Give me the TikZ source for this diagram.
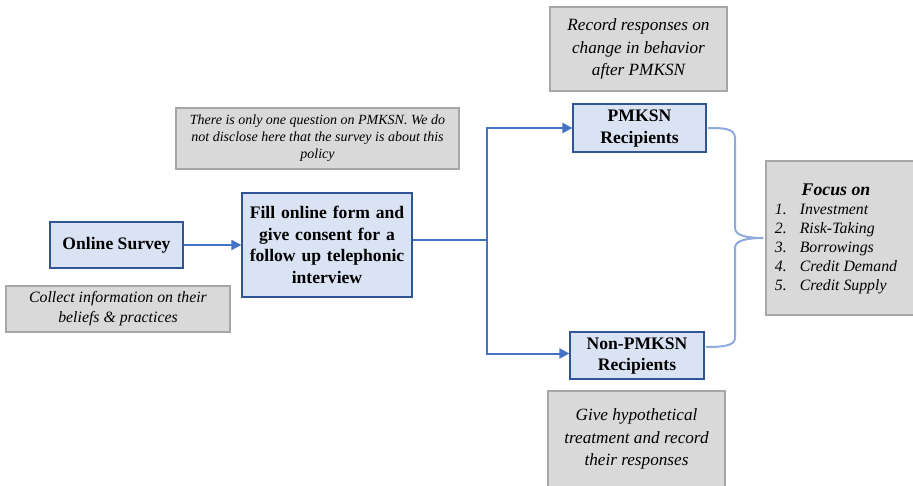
\documentclass[tikz,border=0pt]{standalone}
\usepackage{fontspec}
\setmainfont{Liberation Serif}
\usetikzlibrary{arrows.meta}
\definecolor{boxblue}{HTML}{DAE3F3}
\definecolor{edgeblue}{HTML}{2F5597}
\definecolor{flowblue}{HTML}{4472C4}
\definecolor{bracecol}{HTML}{8FAADC}
\definecolor{notegray}{HTML}{D9D9D9}
\definecolor{noteedge}{HTML}{A6A6A6}
\newcommand{\twolines}[2]{\raisebox{-2pt}{\begin{tabular}{@{}c@{}}#1\\#2\end{tabular}}}
\begin{document}
\begin{tikzpicture}[x=1pt,y=-1pt,
  stage/.style={draw=edgeblue,fill=boxblue,line width=1.2pt,inner sep=2pt,align=center,
    font=\fontsize{17.6}{21.5}\selectfont\bfseries},
  remark/.style={draw=noteedge,fill=notegray,line width=1.2pt,inner sep=2pt,align=center},
  flowline/.style={draw=flowblue,line width=2pt},
  flow/.style={flowline,-{Triangle[length=10pt,width=10pt]}}]
\useasboundingbox (0,0) rectangle (913,486);

% main stages
\node[stage,minimum width=133pt,minimum height=46pt] (survey) at (116.5,245) {Online Survey};
\node[stage,minimum width=170pt,minimum height=104pt,text width=164pt] (form) at (327,245)
  {Fill online form and\\give consent for a\\follow up telephonic\\interview};
\node[stage,minimum width=133pt,minimum height=48pt,inner sep=0pt] (pm) at (639.5,128)
  {\twolines{PMKSN}{Recipients}};
\node[stage,minimum width=134pt,minimum height=47pt,inner sep=0pt] (npm) at (637,355.5)
  {\twolines{Non-PMKSN}{Recipients}};

% side remarks
\node[remark,minimum width=224pt,minimum height=46pt,font=\fontsize{15.8}{20}\selectfont\itshape]
  (collect) at (118,309) {Collect information on their\\beliefs \& practices};
\node[remark,minimum width=283pt,minimum height=61pt,font=\fontsize{14}{17}\selectfont\itshape]
  (note) at (317.5,138.5) {There is only one question on PMKSN. We do\\not disclose here that the survey is about this\\policy};
\node[remark,minimum width=177pt,minimum height=84pt,font=\fontsize{17.2}{22.5}\selectfont\itshape]
  (record) at (638.5,49) {Record responses on\\change in behavior\\after PMKSN};
\node[remark,minimum width=177pt,minimum height=96pt,font=\fontsize{17.2}{22.5}\selectfont\itshape]
  (give) at (636.5,439) {Give hypothetical\\treatment and record\\their responses};

% focus box
\node[remark,minimum width=148pt,minimum height=154pt] (focus) at (840,238) {};
\node[inner sep=0pt,anchor=north,font=\fontsize{15.8}{19}\selectfont\itshape]
  (focuslist) at (836,182)
  {\begin{tabular}{@{}l@{\hspace{13pt}}l@{}}
   \multicolumn{2}{c}{\fontsize{17.8}{21}\selectfont\bfseries\itshape Focus on}\\
   1.&Investment\\
   2.&Risk-Taking\\
   3.&Borrowings\\
   4.&Credit Demand\\
   5.&Credit Supply
   \end{tabular}};

% flow connectors
\coordinate (split) at (487,240);
\draw[flow] (survey.east) -- (form.west);
\draw[flowline] ([yshift=5pt]form.east) -- (split);
\draw[flow] ([yshift=-1pt]split) |- (pm.west);
\draw[flow] ([yshift=1pt]split) |- ([yshift=2pt]npm.west);

% brace gathering both groups toward the focus box
\draw[bracecol,line width=2pt]
  (708,128) .. controls (722,128) and (735,128) .. (735,138) -- (735,228)
  .. controls (735,236) and (748,238) .. ([xshift=-2pt]focus.west)
  .. controls (748,238) and (735,240) .. (735,248) -- (735,338)
  .. controls (735,346) and (722,347) .. (706,347);
\end{tikzpicture}
\end{document}
